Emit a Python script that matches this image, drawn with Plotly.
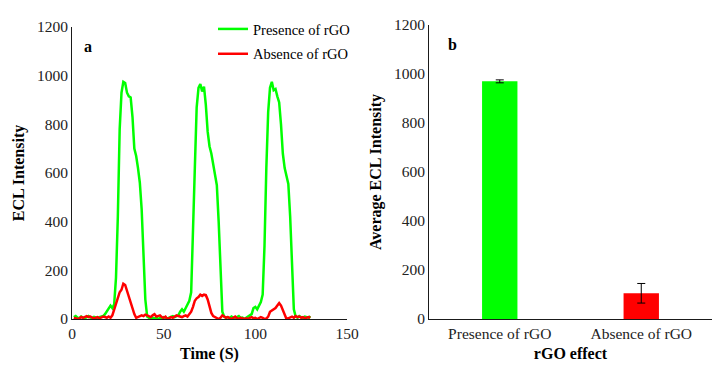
import plotly.graph_objects as go

# ---- Panel a data (time series) ----
time_s = [1,2,3,4,5,6,7,8,9,10,11,12,13,14,15,16,17,18,19,20,
          21,22,23,24,25,26,27,28,29,30,31,32,33,34,35,36,37,38,39,40,
          41,42,43,44,45,46,47,48,49,50,51,52,53,54,55,56,57,58,59,60,
          61,62,63,64,65,66,67,68,69,70,71,72,73,74,75,76,77,78,79,80,
          81,82,83,84,85,86,87,88,89,90,91,92,93,94,95,96,97,98,99,100,
          101,102,103,104,105,106,107,108,109,110,111,112,113,114,115,116,117,118,119,120,
          121,122,123,124,125,126,127,128,129,130]

presence_rgo = [8,12,5,3,10,6,2,8,12,6,4,9,5,3,8,10,12,20,30,45,
                55,45,60,170,420,780,930,975,970,930,915,910,830,700,670,620,560,450,250,80,
                10,3,0,5,2,6,0,4,3,8,5,2,6,10,12,8,12,15,30,40,
                30,45,55,75,110,330,620,870,950,965,935,955,880,770,710,680,640,590,550,400,
                180,30,10,5,8,3,10,5,2,8,12,4,6,0,5,8,15,20,45,50,
                40,55,70,100,300,620,850,950,975,940,945,915,890,800,680,620,590,555,420,200,
                40,10,5,12,8,3,10,6,5,12]

absence_rgo = [5,3,0,2,8,5,10,12,8,10,6,2,5,8,3,6,10,8,5,10,
               5,15,40,60,95,110,120,145,140,115,90,60,45,20,5,8,12,15,12,18,
               15,10,8,15,20,10,12,15,8,5,10,0,3,8,5,10,15,12,10,8,
               12,15,10,20,30,50,75,85,90,100,95,100,98,80,50,25,12,8,5,0,
               5,15,10,5,8,3,0,5,10,3,0,5,2,0,3,0,5,8,3,5,
               0,3,8,5,0,2,10,30,35,40,45,55,65,55,35,15,0,3,8,10,
               5,12,8,10,5,8,3,5,8,5]

# ---- Panel b data (bar chart) ----
bar_categories = ["Presence of rGO", "Absence of rGO"]
bar_values = [970, 105]
bar_errors = [6, 40]
bar_colors = ["#00FF00", "#FF0000"]

y_ticks = [0, 200, 400, 600, 800, 1000, 1200]
x_ticks_a = [0, 50, 100, 150]

FONT = "Liberation Serif"
AXIS_COLOR = "#1a1a1a"

# page body has an 8px margin: figure is 720x364, coordinates offset by 8
W, H, OFF = 720, 364, 8
def px(v):
    return (v - OFF) / W
def py(v):
    return 1 - (v - OFF) / H

fig = go.Figure()

fig.add_trace(go.Scatter(
    x=time_s, y=presence_rgo, mode="lines", name="Presence of rGO",
    line=dict(color="#00FF00", width=2.5), legendgroup="g1",
    xaxis="x", yaxis="y"))
fig.add_trace(go.Scatter(
    x=time_s, y=absence_rgo, mode="lines", name="Absence of rGO",
    line=dict(color="#FF0000", width=2.5), legendgroup="g2",
    xaxis="x", yaxis="y"))

fig.add_trace(go.Bar(
    x=bar_categories, y=bar_values, marker=dict(color=bar_colors, line=dict(width=0)),
    error_y=dict(type="data", array=bar_errors, color="black", thickness=1, width=4),
    showlegend=False, xaxis="x2", yaxis="y2"))

common = dict(showline=True, linecolor=AXIS_COLOR, linewidth=1, showgrid=False,
              zeroline=False, ticks="", automargin=False,
              tickfont=dict(size=15.5, family=FONT, color="#222"))

fig.update_layout(
    width=W, height=H,
    margin=dict(l=0, r=0, t=0, b=0, autoexpand=False),
    paper_bgcolor="white", plot_bgcolor="white",
    font=dict(family=FONT, size=15, color="black"),
    bargap=0.75,
    showlegend=True,
    legend=dict(x=px(213), y=py(13), xanchor="left", yanchor="top",
                bgcolor="rgba(0,0,0,0)", font=dict(size=14.5, family=FONT),
                tracegroupgap=3, itemwidth=30),
    xaxis=dict(domain=[px(72), px(347)], range=[0, 150], tickvals=x_ticks_a, anchor="y",
               title=dict(text="<b>Time (S)</b>", font=dict(size=16, family=FONT), standoff=7),
               **common),
    yaxis=dict(domain=[py(319), py(27)], range=[0, 1200], tickvals=y_ticks, anchor="x",
               title=dict(text="<b>ECL Intensity</b>", font=dict(size=16, family=FONT), standoff=8),
               **common),
    xaxis2=dict(domain=[px(429), px(712)], anchor="y2",
                title=dict(text="<b>rGO effect</b>", font=dict(size=16, family=FONT), standoff=7),
                **common),
    yaxis2=dict(domain=[py(319), py(25)], range=[0, 1200], tickvals=y_ticks, anchor="x2",
                title=dict(text="<b>Average ECL Intensity</b>", font=dict(size=16, family=FONT), standoff=8),
                **common),
    annotations=[
        dict(text="<b>a</b>", x=px(88), y=py(47), xref="paper", yref="paper",
             xanchor="center", yanchor="middle",
             showarrow=False, font=dict(size=16, family=FONT)),
        dict(text="<b>b</b>", x=px(452), y=py(45), xref="paper", yref="paper",
             xanchor="center", yanchor="middle",
             showarrow=False, font=dict(size=16, family=FONT)),
    ],
)

fig.write_html("out.html")
